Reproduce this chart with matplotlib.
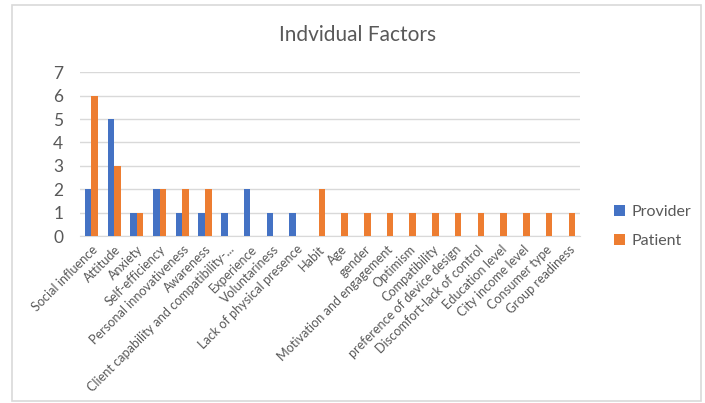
import matplotlib
matplotlib.use("Agg")
import matplotlib.pyplot as plt
import numpy as np
from matplotlib.patches import Rectangle

CATEGORIES = [
    "Social influence", "Attitude", "Anxiety", "Self-efficiency",
    "Personal innovativeness", "Awareness",
    "Client capability and compatibility-...", "Experience", "Voluntariness",
    "Lack of physical presence", "Habit", "Age", "gender",
    "Motivation and engagement", "Optimism", "Compatibility",
    "preference of device design", "Discomfort-lack of control",
    "Education level", "City income level", "Consumer type", "Group readiness",
]
PROVIDER = [2, 5, 1, 2, 1, 1, 1, 2, 1, 1, 0, 0, 0, 0, 0, 0, 0, 0, 0, 0, 0, 0]
PATIENT = [6, 3, 1, 2, 2, 2, 0, 0, 0, 0, 2, 1, 1, 1, 1, 1, 1, 1, 1, 1, 1, 1]
YTICKS = [0, 1, 2, 3, 4, 5, 6, 7]

BLUE = "#4472C4"
ORANGE = "#ED7D31"
TEXT = "#595959"
GRID = "#D9D9D9"

plt.rcParams["font.family"] = ["Lato", "DejaVu Sans"]

fig = plt.figure(figsize=(7.05, 4.03), dpi=100)
ax = fig.add_axes([0.1135, 0.414, 0.709, 0.407])

x = np.arange(len(CATEGORIES))
w = 0.29
ax.bar(x - w / 2, PROVIDER, width=w, color=BLUE, label="Provider", zorder=3)
ax.bar(x + w / 2, PATIENT, width=w, color=ORANGE, label="Patient", zorder=3)

ax.set_xlim(-0.5, len(CATEGORIES) - 0.5)
ax.set_ylim(0, 7)
ax.set_yticks(YTICKS)
ax.yaxis.grid(True, color=GRID, linewidth=1, zorder=0)
ax.tick_params(axis="y", length=0, labelsize=12.5, labelcolor=TEXT, pad=12)
ax.tick_params(axis="x", length=0, labelsize=9.1, labelcolor=TEXT, pad=5)
ax.set_xticks(x)
ax.set_xticklabels(CATEGORIES, rotation=45, ha="right", rotation_mode="anchor")
for s in ("top", "right", "left"):
    ax.spines[s].set_visible(False)
ax.spines["bottom"].set_color(GRID)

fig.text(0.507, 0.912, "Indvidual Factors", ha="center", va="center",
         fontsize=15, color=TEXT)

fig.legend(loc="upper left", bbox_to_anchor=(0.85, 0.527), frameon=False,
           fontsize=11.5, labelcolor=TEXT, handlelength=0.7, handleheight=0.7,
           handletextpad=0.4, labelspacing=0.9)

fig.add_artist(Rectangle((0.017, 0.006), 0.978, 0.982, transform=fig.transFigure,
                         fill=False, edgecolor=GRID, linewidth=1.2))

fig.savefig("out.png", dpi=100, facecolor="white")
